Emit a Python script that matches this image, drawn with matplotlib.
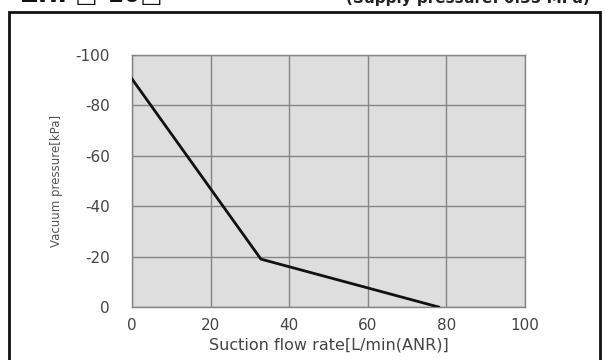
import matplotlib
matplotlib.use("Agg")
import matplotlib.pyplot as plt
from matplotlib.patches import Rectangle

flow = [0, 32.8, 78]
pressure = [-90.5, -19, 0]
xticks = [0, 20, 40, 60, 80, 100]
yticks = [0, -20, -40, -60, -80, -100]

fig = plt.figure(figsize=(6.05, 3.6), dpi=100)
fig.patch.set_facecolor("white")

# outer frame
fig.patches.append(Rectangle((9/605, -0.05), (600-9)/605, 1.05 - 12/360,
                             transform=fig.transFigure, fill=False,
                             edgecolor="#111111", linewidth=2.0))
fig.text(0.035, 1 - 7/360, "ZHP\u25a1-10\u25a1", fontsize=17, fontweight="bold",
         va="bottom", ha="left", color="#111111", family=["DejaVu Sans"])
fig.text(0.975, 1 - 6/360, "(Supply pressure: 0.35 MPa)", fontsize=11,
         fontweight="bold", va="bottom", ha="right", color="#222222")

ax = fig.add_axes([132/605, 1 - 307/360, (525-132)/605, (307-55)/360])
ax.set_facecolor("#dedede")
ax.plot(flow, pressure, color="#111111", linewidth=2.0, zorder=3)
ax.set_xlim(0, 100)
ax.set_ylim(0, -100)
ax.set_xticks(xticks)
ax.set_yticks(yticks)
ax.set_xticklabels([str(v) for v in xticks])
ax.set_yticklabels([str(v).replace("\u2212", "-") for v in yticks])
ax.grid(True, color="#858585", linewidth=1.0)
ax.set_axisbelow(True)
for s in ax.spines.values():
    s.set_color("#858585")
    s.set_linewidth(1.0)
ax.tick_params(length=0, labelsize=11, colors="#444444")
ax.tick_params(axis="y", pad=16)
ax.tick_params(axis="x", pad=8)
ax.set_xlabel("Suction flow rate[L/min(ANR)]", fontsize=11.5, color="#444444", labelpad=3)
ax.set_ylabel("Vacuum pressure[kPa]", fontsize=8.5, color="#555555", labelpad=9)

fig.savefig("out.png", dpi=100)
